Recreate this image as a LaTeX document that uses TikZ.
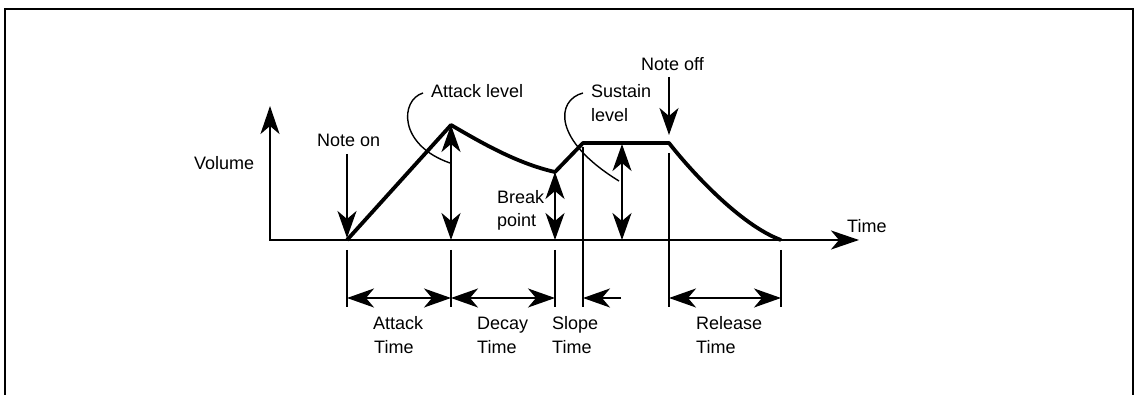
\documentclass[tikz,border=0pt]{standalone}
\usepackage{fontspec}
\setmainfont{Liberation Sans}
\usetikzlibrary{arrows.meta}
\begin{document}
\begin{tikzpicture}[x=1pt,y=-1pt,
  lbl/.style={anchor=base west,inner sep=0pt,font=\fontsize{18}{23.5}\selectfont},
  axis/.style={line width=2.6pt,{Stealth[length=28pt,width=19pt,inset=8pt]}-{Stealth[length=28pt,width=19pt,inset=8pt]}},
  env/.style={line width=3.8pt,line join=round},
  dimtip/.tip={Stealth[length=27pt,width=19pt,inset=8pt]},
  dbl/.style={line width=2pt,dimtip-dimtip},
  single/.style={line width=2pt,-dimtip},
  guide/.style={line width=2pt},
  leader/.style={line width=1.4pt}]
  \useasboundingbox (0,0) rectangle (1135,395);

  % frame, open at the bottom
  \draw[line width=2pt] (5,395) -- (5,9) -- (1133,9) -- (1133,395);

  % key points of the envelope
  \coordinate (ytop) at (270,106);
  \coordinate (O) at (270,240);
  \coordinate (xtip) at (859,240);
  \coordinate (on) at (347,240);
  \coordinate (peak) at (451,125);
  \coordinate (brk) at (555,172);
  \coordinate (sus) at (583,143);
  \coordinate (off) at (669,143);
  \coordinate (rel) at (781,240);

  % axes
  \draw[axis] (ytop) -- (O) -- (xtip);

  % envelope
  \draw[env] (on) -- (peak) .. controls (477,140) and (515,163) .. (brk)
    -- (sus) -- (off) .. controls (690,170) and (740,225) .. (rel);

  % level arrows
  \coordinate (peakB) at (451,240);
  \coordinate (brkB) at (555,240);
  \coordinate (susT) at (622,144);
  \coordinate (susB) at (622,240);
  \draw[dbl] (peak) -- (peakB);
  \draw[dbl] (brk) -- (brkB);
  \draw[dbl] (susT) -- (susB);

  % note on / note off arrows
  \coordinate (onT) at (347,154);
  \coordinate (onH) at (347,238);
  \coordinate (offT) at (669,77);
  \coordinate (offH) at (669,135);
  \draw[single] (onT) -- (onH);
  \draw[single] (offT) -- (offH);

  % leaders
  \coordinate (atkL0) at (423,93);
  \coordinate (atkL1) at (450,163);
  \coordinate (susL0) at (583,93);
  \coordinate (susL1) at (619,181);
  \draw[leader] (atkL0) .. controls (400,100) and (398,145) .. (atkL1);
  \draw[leader] (susL0) .. controls (556,100) and (552,140) .. (susL1);

  % vertical guide lines
  \coordinate (g1t) at (347,250);  \coordinate (g1b) at (347,307);
  \coordinate (g2t) at (451,250);  \coordinate (g2b) at (451,307);
  \coordinate (g3t) at (555,250);  \coordinate (g3b) at (555,307);
  \coordinate (g4t) at (583,147);  \coordinate (g4b) at (583,307);
  \coordinate (g5t) at (669,153);  \coordinate (g5b) at (669,307);
  \coordinate (g6t) at (781,250);  \coordinate (g6b) at (781,307);
  \foreach \g in {1,...,6} \draw[guide] (g\g t) -- (g\g b);

  % time spans
  \coordinate (d1) at (347,298);
  \coordinate (d2) at (451,298);
  \coordinate (d3) at (555,298);
  \coordinate (d4) at (583,298);
  \coordinate (d4e) at (621,298);
  \coordinate (d5) at (669,298);
  \coordinate (d6) at (781,298);
  \draw[dbl] (d1) -- (d2);
  \draw[dbl] (d2) -- (d3);
  \draw[single] (d4e) -- (d4);
  \draw[dbl] (d5) -- (d6);

  % labels
  \node[lbl] (vol) at (194,170) {Volume};
  \node[lbl] (noteon) at (317,147) {Note on};
  \node[lbl] (atklvl) at (431,98) {Attack level};
  \node[lbl] (sus1) at (591,98) {Sustain};
  \node[lbl] (sus2) at (591,121.5) {level};
  \node[lbl] (noteoff) at (641,70.5) {Note off};
  \node[lbl] (brk1) at (497,204) {Break};
  \node[lbl] (brk2) at (497,227) {point};
  \node[lbl] (time) at (847,233) {Time};
  \node[lbl] (at1) at (373,330) {Attack};
  \node[lbl] (at2) at (374,353.5) {Time};
  \node[lbl] (de1) at (477,330) {Decay};
  \node[lbl] (de2) at (477,353.5) {Time};
  \node[lbl] (sl1) at (552,330) {Slope};
  \node[lbl] (sl2) at (552,353.5) {Time};
  \node[lbl] (re1) at (696,330) {Release};
  \node[lbl] (re2) at (696,353.5) {Time};
\end{tikzpicture}
\end{document}
